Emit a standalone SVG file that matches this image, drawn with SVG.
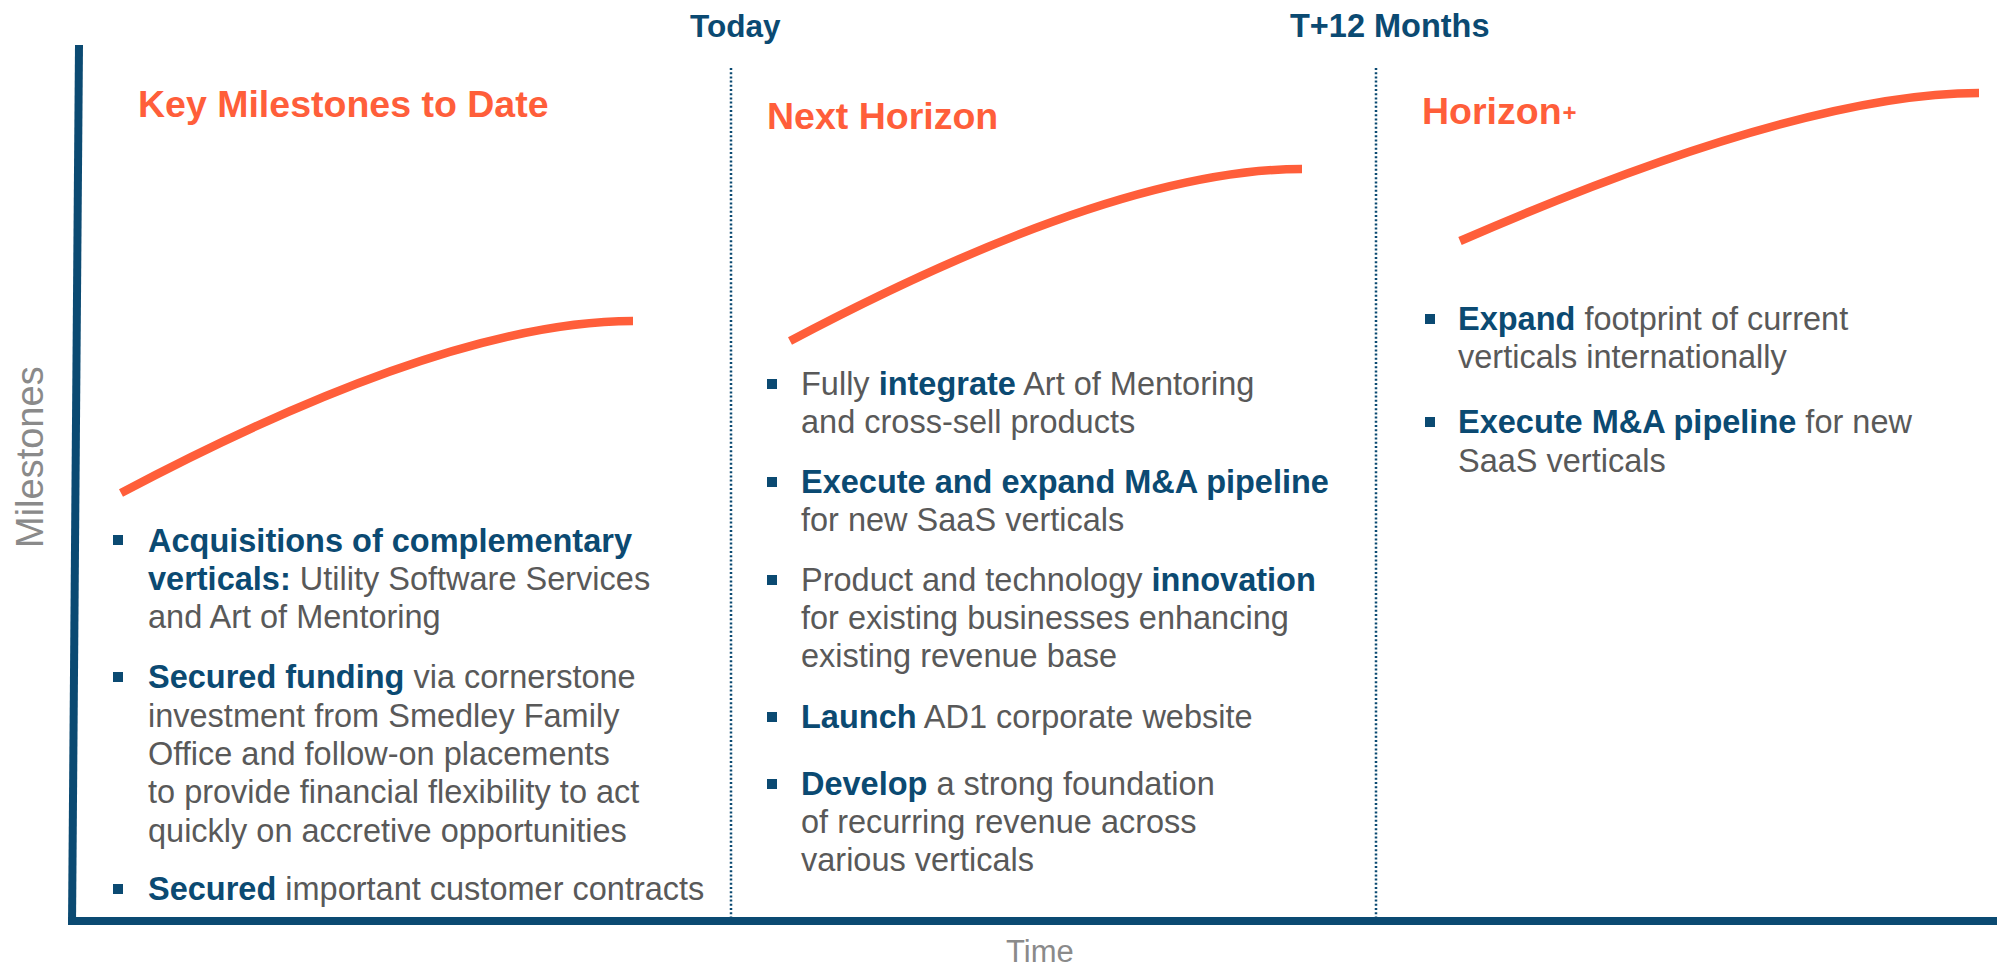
<svg xmlns="http://www.w3.org/2000/svg" width="1997" height="967" viewBox="0 0 1997 967">
  <style>
    text { font-family: "Liberation Sans", Arial, sans-serif; }
    .hdr { font-size: 31.5px; font-weight: bold; fill: #0b4a72; }
    .ttl { font-size: 37.5px; font-weight: bold; fill: #ff5e3a; }
    .axl { font-size: 31px; fill: #8a8a8a; }
    .body { font-size: 32.5px; fill: #595959; }
    .b { font-weight: bold; fill: #0b4a72; }
    .bul { fill: #0b4a72; }
    .curve { fill: none; stroke: #ff5e3a; stroke-width: 8.5; }
    .axis { stroke: #0b4a72; fill: none; }
    .sep { stroke: #0b4a72; stroke-width: 2.5; stroke-dasharray: 2 2.2; }
  </style>

  <rect width="1997" height="967" fill="#ffffff"/>

  <!-- axes, period separators and growth curves -->
  <g id="connectors">
    <line class="axis" x1="79" y1="45" x2="72" y2="925" stroke-width="8"/>
    <line class="axis" x1="68" y1="921" x2="1997" y2="921" stroke-width="8"/>
    <line class="sep" x1="731" y1="68" x2="731" y2="917"/>
    <line class="sep" x1="1376" y1="68" x2="1376" y2="917"/>
    <path class="curve" d="M121,493 Q446,321 633,321"/>
    <path class="curve" d="M790,341 Q1115,169 1302,169"/>
    <path class="curve" d="M1460,241 Q1800,93 1979,93"/>
  </g>

  <!-- axis labels -->
  <g id="axis-labels">
    <text class="axl" x="1006" y="962">Time</text>
    <text class="axl" style="font-size:38px" transform="translate(43,548) rotate(-90)">Milestones</text>
    <text class="hdr" x="690" y="37">Today</text>
    <text class="hdr" style="font-size:32.5px" x="1290" y="37">T+12 Months</text>
  </g>

  <!-- period 1 -->
  <g id="key-milestones">
    <text class="ttl" x="138" y="117">Key Milestones to Date</text>
    <rect class="bul" x="113" y="535" width="10" height="10"/>
    <rect class="bul" x="113" y="672" width="10" height="10"/>
    <rect class="bul" x="113" y="884" width="10" height="10"/>
    <text class="body">
      <tspan x="148" y="552" class="b">Acquisitions of complementary</tspan>
      <tspan x="148" y="590"><tspan class="b">verticals:</tspan> Utility Software Services</tspan>
      <tspan x="148" y="628">and Art of Mentoring</tspan>
      <tspan x="148" y="688"><tspan class="b">Secured funding</tspan> via cornerstone</tspan>
      <tspan x="148" y="727">investment from Smedley Family</tspan>
      <tspan x="148" y="765">Office and follow-on placements</tspan>
      <tspan x="148" y="803">to provide financial flexibility to act</tspan>
      <tspan x="148" y="842">quickly on accretive opportunities</tspan>
      <tspan x="148" y="900"><tspan class="b">Secured</tspan> important customer contracts</tspan>
    </text>
  </g>

  <!-- period 2 -->
  <g id="next-horizon">
    <text class="ttl" x="767" y="129">Next Horizon</text>
    <rect class="bul" x="767" y="379" width="10" height="10"/>
    <rect class="bul" x="767" y="477" width="10" height="10"/>
    <rect class="bul" x="767" y="575" width="10" height="10"/>
    <rect class="bul" x="767" y="712" width="10" height="10"/>
    <rect class="bul" x="767" y="779" width="10" height="10"/>
    <text class="body">
      <tspan x="801" y="395">Fully <tspan class="b">integrate</tspan> Art of Mentoring</tspan>
      <tspan x="801" y="433">and cross-sell products</tspan>
      <tspan x="801" y="493" class="b">Execute and expand M&amp;A pipeline</tspan>
      <tspan x="801" y="531">for new SaaS verticals</tspan>
      <tspan x="801" y="591">Product and technology <tspan class="b">innovation</tspan></tspan>
      <tspan x="801" y="629">for existing businesses enhancing</tspan>
      <tspan x="801" y="667">existing revenue base</tspan>
      <tspan x="801" y="728"><tspan class="b">Launch</tspan> AD1 corporate website</tspan>
      <tspan x="801" y="795"><tspan class="b">Develop</tspan> a strong foundation</tspan>
      <tspan x="801" y="833">of recurring revenue across</tspan>
      <tspan x="801" y="871">various verticals</tspan>
    </text>
  </g>

  <!-- period 3 -->
  <g id="horizon-plus">
    <text class="ttl" x="1422" y="124">Horizon<tspan style="font-size:24px" dx="1" dy="-3">+</tspan></text>
    <rect class="bul" x="1425" y="314" width="10" height="10"/>
    <rect class="bul" x="1425" y="417" width="10" height="10"/>
    <text class="body">
      <tspan x="1458" y="330"><tspan class="b">Expand</tspan> footprint of current</tspan>
      <tspan x="1458" y="368">verticals internationally</tspan>
      <tspan x="1458" y="433"><tspan class="b">Execute M&amp;A pipeline</tspan> for new</tspan>
      <tspan x="1458" y="472">SaaS verticals</tspan>
    </text>
  </g>
</svg>
